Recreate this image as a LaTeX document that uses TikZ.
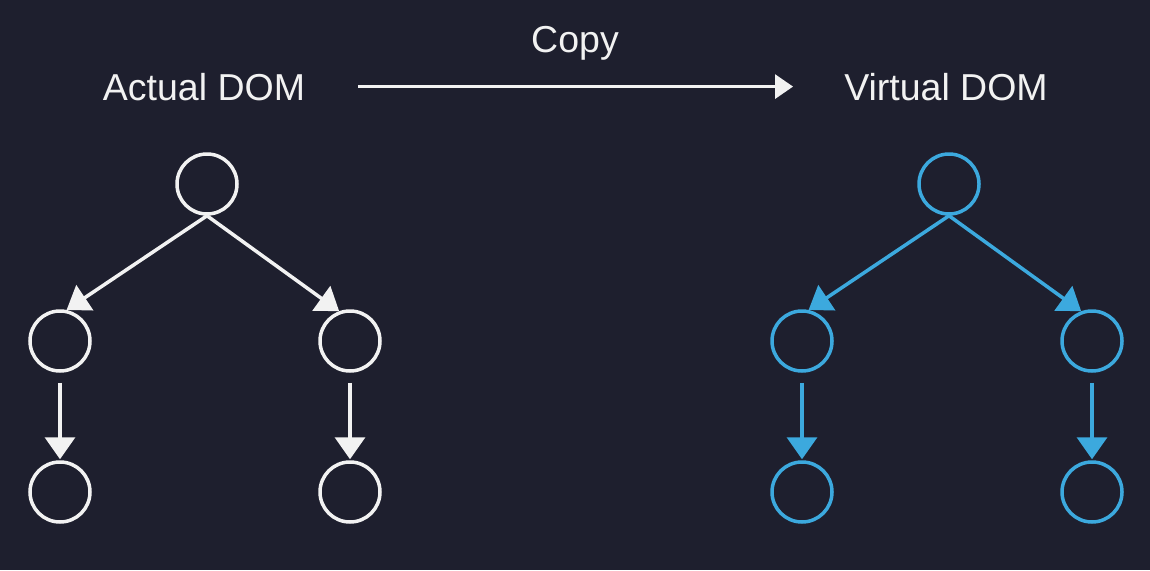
\documentclass[tikz,border=0pt]{standalone}
\usepackage{fontspec}
\setmainfont{Liberation Sans}
\usetikzlibrary{arrows.meta}
\definecolor{bg}{HTML}{1E1F2E}
\definecolor{vblue}{HTML}{3CA9DE}
\definecolor{chalk}{HTML}{F2F2F2}
\begin{document}
\begin{tikzpicture}[x=1pt,y=-1pt,
  treenode/.style={circle,draw,line width=3.5pt,minimum size=60pt,inner sep=0pt},
  link/.style={line width=3.5pt,-{Triangle[length=22pt,width=30pt]}},
  lbl/.style={text=chalk,font=\fontsize{37.5}{45}\selectfont,anchor=base,inner sep=0pt}]
\fill[bg] (0,0) rectangle (1150,570);
\useasboundingbox (0,0) rectangle (1150,570);
% titles
\node[lbl] (actual) at (204,100) {Actual DOM};
\node[lbl] (virtual) at (946,100) {Virtual DOM};
\node[lbl] (copy) at (575,52) {Copy};
\draw[chalk,line width=3pt,-{Triangle[length=18pt,width=24pt]},shorten <=53pt,shorten >=51pt] (actual.east) -- (virtual.west);
% actual DOM tree
\begin{scope}[every node/.style={treenode,chalk},chalk]
\node (lt) at (207,184) {};
\node (lml) at (60,341) {};
\node (lmr) at (350,341) {};
\node (lbl) at (60,492) {};
\node (lbr) at (350,492) {};
\draw[link] (lt.south) -- (lml.78);
\draw[link] (lt.south) -- (lmr.110);
\draw[link,shorten <=10pt,shorten >=1pt] (lml.south) -- (lbl.north);
\draw[link,shorten <=10pt,shorten >=1pt] (lmr.south) -- (lbr.north);
\end{scope}
% virtual DOM tree
\begin{scope}[every node/.style={treenode,vblue},vblue]
\node (rt) at (949,184) {};
\node (rml) at (802,341) {};
\node (rmr) at (1092,341) {};
\node (rbl) at (802,492) {};
\node (rbr) at (1092,492) {};
\draw[link] (rt.south) -- (rml.78);
\draw[link] (rt.south) -- (rmr.110);
\draw[link,shorten <=10pt,shorten >=1pt] (rml.south) -- (rbl.north);
\draw[link,shorten <=10pt,shorten >=1pt] (rmr.south) -- (rbr.north);
\end{scope}
\end{tikzpicture}
\end{document}
